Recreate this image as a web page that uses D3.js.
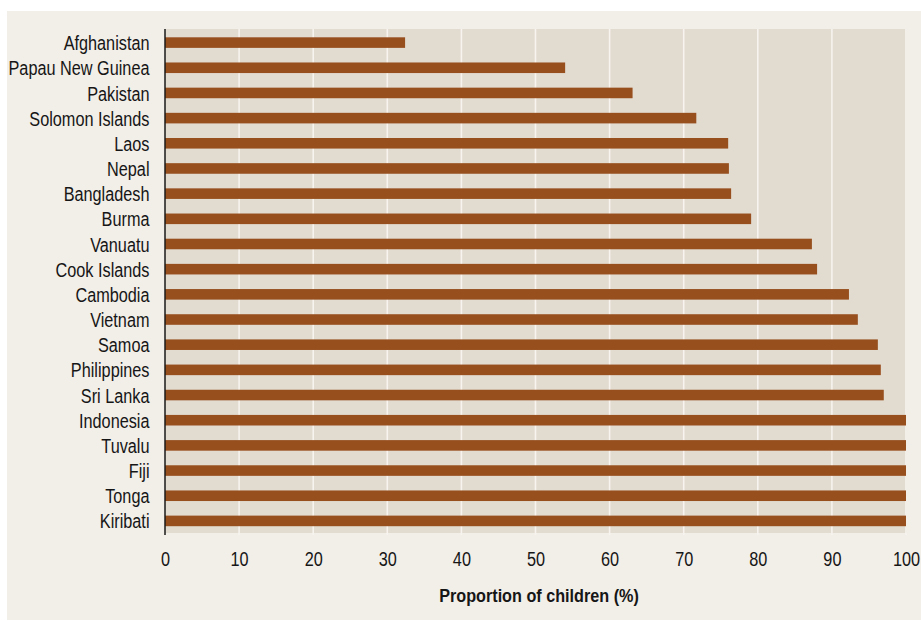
<!DOCTYPE html>
<html><head><meta charset="utf-8">
<script src="https://cdn.jsdelivr.net/npm/d3@7"></script>
<style>
html,body{margin:0;padding:0;background:#ffffff;}
svg{display:block;}
text{font-family:"Liberation Sans",Arial,sans-serif;fill:#161616;}
</style></head>
<body>
<svg id="chart" width="921" height="621"></svg>
<script>
const countries = ["Afghanistan","Papau New Guinea","Pakistan","Solomon Islands","Laos","Nepal","Bangladesh","Burma","Vanuatu","Cook Islands","Cambodia","Vietnam","Samoa","Philippines","Sri Lanka","Indonesia","Tuvalu","Fiji","Tonga","Kiribati"];
const values = [32.4,54.0,63.1,71.7,76.0,76.1,76.4,79.1,87.3,88.0,92.3,93.5,96.2,96.6,97.0,100,100,100,100,100];
const xTicks = [0,10,20,30,40,50,60,70,80,90,100];
const xTitle = "Proportion of children (%)";

const svg = d3.select("#chart");
const mLeft = 165, mRight = 906, mTop = 30, mBottom = 533.5;
const sx = 0.775; // horizontal condensing of the label font
const FONT = '"Liberation Sans",Arial,sans-serif';

svg.append("rect").attr("x",7).attr("y",11).attr("width",914).attr("height",609).attr("fill","#f2eee8");

const x = d3.scaleLinear().domain([0,100]).range([mLeft,mRight]);
const y = d3.scaleBand().domain(countries).range([mTop,mBottom]).paddingInner(0.58).paddingOuter(0.29);

svg.append("rect").attr("x",mLeft).attr("y",29).attr("width",907-mLeft).attr("height",533-29).attr("fill","#e2dbd0");

// gridlines
svg.append("g").selectAll("line").data(xTicks.slice(1)).join("line")
  .attr("x1",d=>x(d)).attr("x2",d=>x(d)).attr("y1",29).attr("y2",535)
  .attr("stroke","#f7f3ee").attr("stroke-width",1.6);

// bars
svg.append("g").selectAll("rect").data(countries).join("rect")
  .attr("x",x(0)).attr("y",d=>y(d))
  .attr("width",(d,i)=>x(values[i])-x(0)).attr("height",y.bandwidth())
  .attr("fill","#974f1e");

// axis line
svg.append("line").attr("x1",mLeft).attr("x2",mLeft).attr("y1",29).attr("y2",535)
  .attr("stroke","#1a1a1a").attr("stroke-width",1.5);

// y labels
const ya = svg.append("g").attr("transform",`translate(${mLeft},0)`)
  .call(d3.axisLeft(y).tickSize(0).tickPadding(15));
ya.select(".domain").remove();
ya.selectAll("text")
  .attr("font-size","21px").attr("dy","0.36em")
  .attr("x", -15.5/sx)
  .attr("transform",`scale(${sx},1)`)
  .style("font-family",FONT).attr("fill","#161616");

// x labels
const xa = svg.append("g").attr("transform",`translate(0,${mBottom})`)
  .call(d3.axisBottom(x).tickValues(xTicks).tickSize(0).tickFormat(d3.format("d")));
xa.select(".domain").remove();
xa.selectAll("text")
  .attr("font-size","21px").attr("y",18).attr("dy","0.71em")
  .attr("transform",`scale(${sx},1)`)
  .style("font-family",FONT).attr("fill","#161616");

const tx = 539;
svg.append("text").attr("x",tx/0.9).attr("y",602).attr("text-anchor","middle")
  .attr("transform","scale(0.9,1)")
  .attr("font-size","18px").attr("font-weight","bold").style("font-family",FONT).text(xTitle);
</script>
</body></html>
